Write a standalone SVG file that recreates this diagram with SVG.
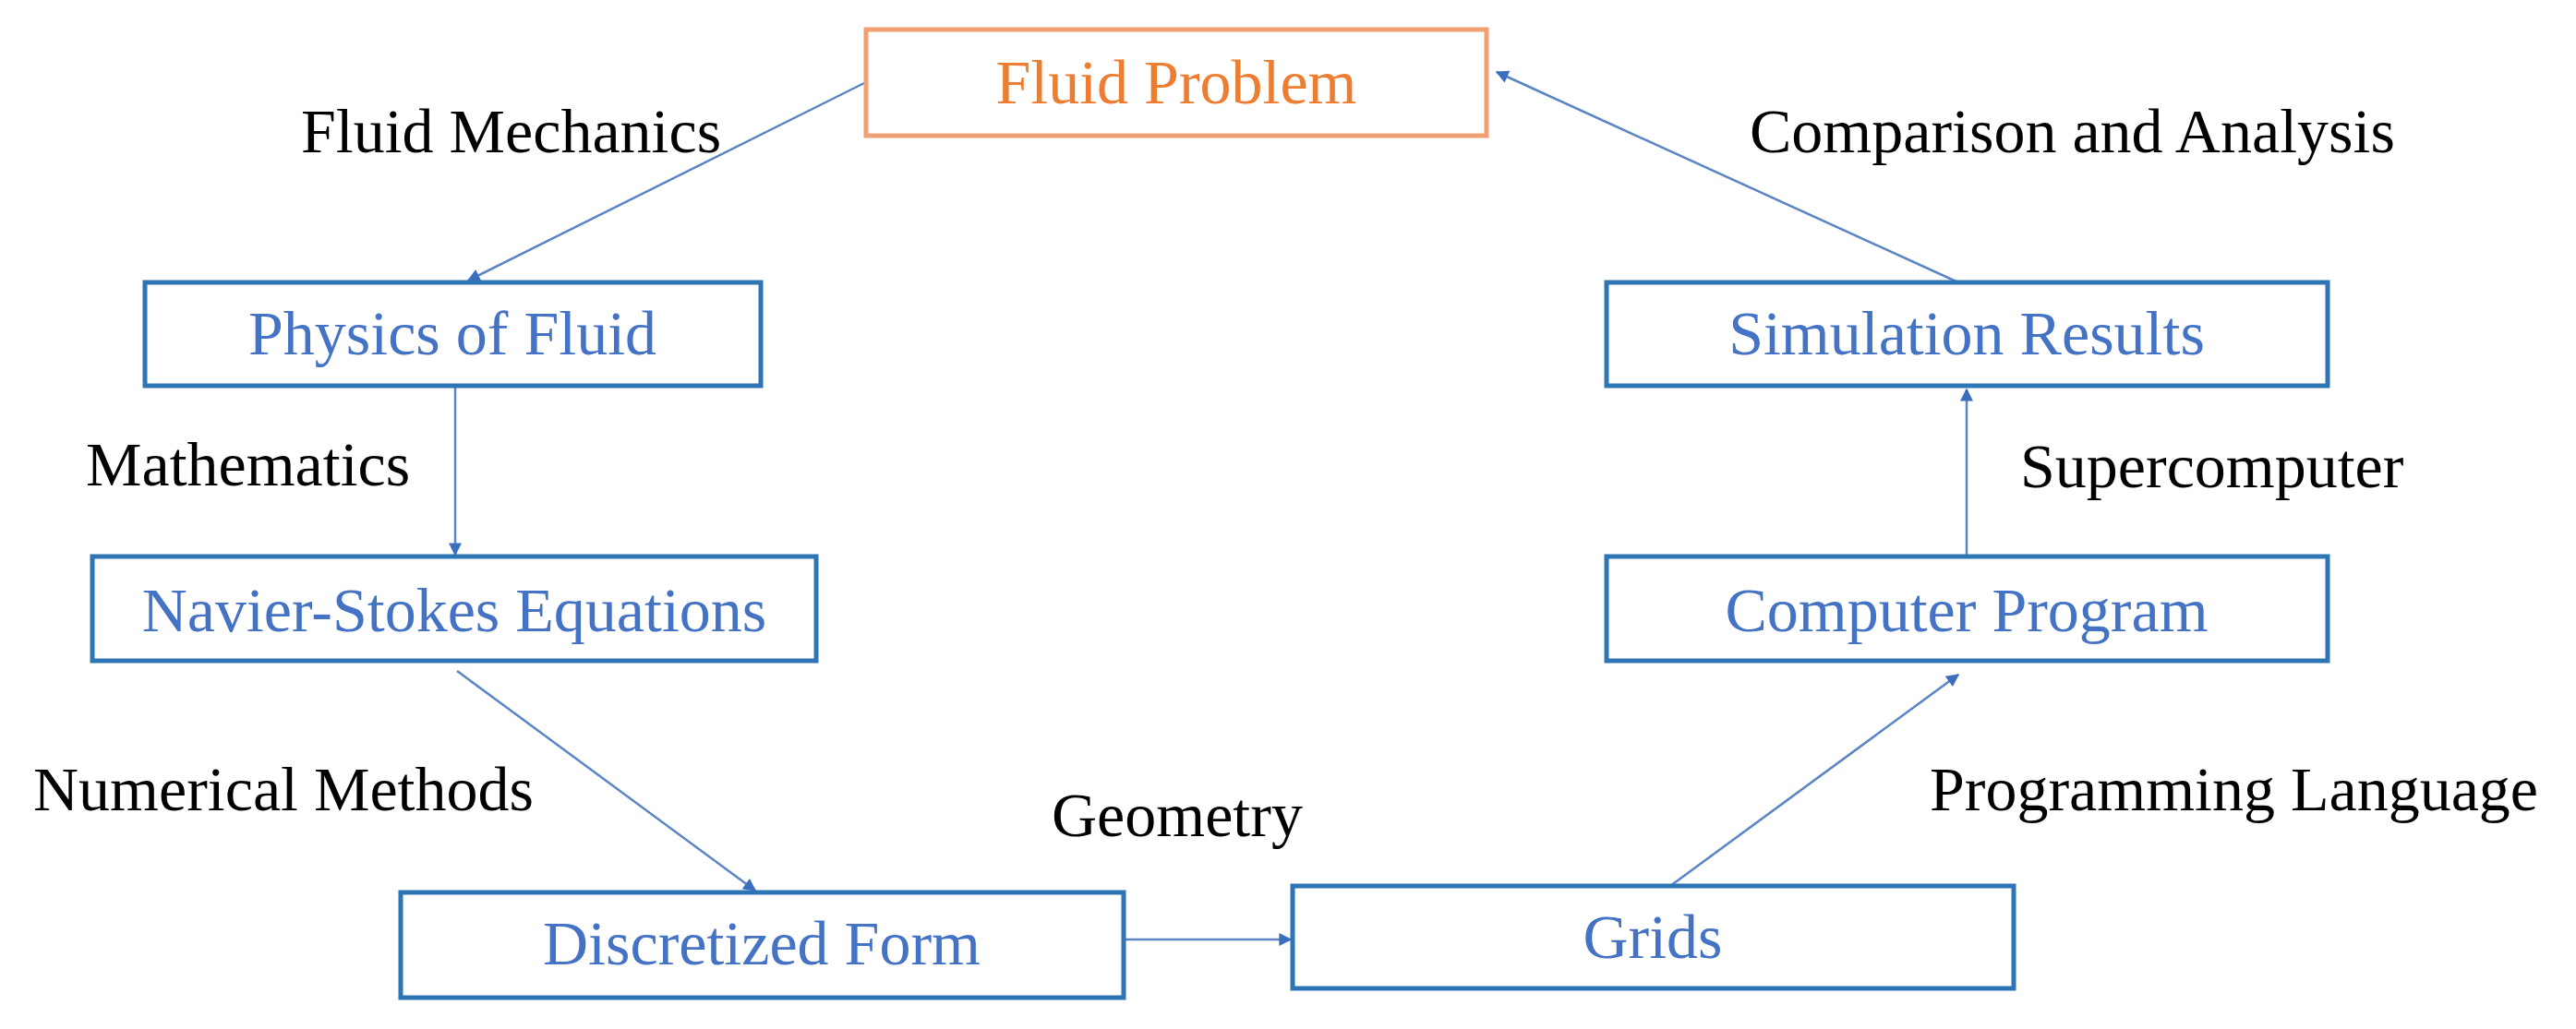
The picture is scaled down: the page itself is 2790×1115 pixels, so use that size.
<svg xmlns="http://www.w3.org/2000/svg" width="2790" height="1115" viewBox="0 0 2790 1115">
<style>
text{font-family:"Liberation Serif","Times New Roman",serif;font-size:68px}
.box{fill:#fff;stroke:#2e75b6;stroke-width:5}
.bt{fill:#4472c4;text-anchor:middle}
.lbl{fill:#000}
.c{stroke:#5b84c4;stroke-width:2.5;fill:none;marker-end:url(#ah)}
</style>
<defs>
<marker id="ah" viewBox="0 0 10 10" refX="9" refY="5" markerWidth="7" markerHeight="7" markerUnits="userSpaceOnUse" orient="auto" style="overflow:visible">
<path d="M0,0 L10,5 L0,10 z" fill="#3a6fc0" transform="scale(2)translate(-4.5,-2.5)"/>
</marker>
</defs>
<rect width="2790" height="1115" fill="#fff"/>
<g id="connectors">
<line class="c" x1="938" y1="89" x2="507" y2="304"/>
<line class="c" x1="493" y1="418" x2="493" y2="601"/>
<line class="c" x1="495" y1="727" x2="818" y2="965"/>
<line class="c" x1="1217" y1="1018" x2="1398" y2="1018"/>
<line class="c" x1="1809" y1="960" x2="2121" y2="731"/>
<line class="c" x1="2130" y1="603" x2="2130" y2="422"/>
<line class="c" x1="2121" y1="306" x2="1621" y2="78"/>
</g>
<g id="fluid-problem"><rect x="938" y="32" width="672" height="115" fill="#fff" stroke="#f0a070" stroke-width="5"/><text x="1274" y="112" fill="#ed7d31" text-anchor="middle">Fluid Problem</text></g>
<g id="physics"><rect class="box" x="157" y="306" width="667" height="112" stroke="#1f7aa8"/><text class="bt" x="490" y="384">Physics of Fluid</text></g>
<g id="navier"><rect class="box" x="100" y="603" width="784" height="113"/><text class="bt" x="492" y="684">Navier-Stokes Equations</text></g>
<g id="discretized"><rect class="box" x="434" y="967" width="783" height="114" stroke="#1f7aa8"/><text class="bt" x="825" y="1045">Discretized Form</text></g>
<g id="grids"><rect class="box" x="1400" y="960" width="781" height="111"/><text class="bt" x="1790" y="1038">Grids</text></g>
<g id="computer"><rect class="box" x="1740" y="603" width="781" height="113"/><text class="bt" x="2130" y="684">Computer Program</text></g>
<g id="simulation"><rect class="box" x="1740" y="306" width="781" height="112" stroke="#1f7aa8"/><text class="bt" x="2130" y="384">Simulation Results</text></g>
<g id="labels">
<text class="lbl" x="326" y="165">Fluid Mechanics</text>
<text class="lbl" x="1895" y="165">Comparison and Analysis</text>
<text class="lbl" x="93" y="526">Mathematics</text>
<text class="lbl" x="2188" y="528">Supercomputer</text>
<text class="lbl" x="36" y="878">Numerical Methods</text>
<text class="lbl" x="1139" y="906">Geometry</text>
<text class="lbl" x="2090" y="878">Programming Language</text>
</g>
</svg>
